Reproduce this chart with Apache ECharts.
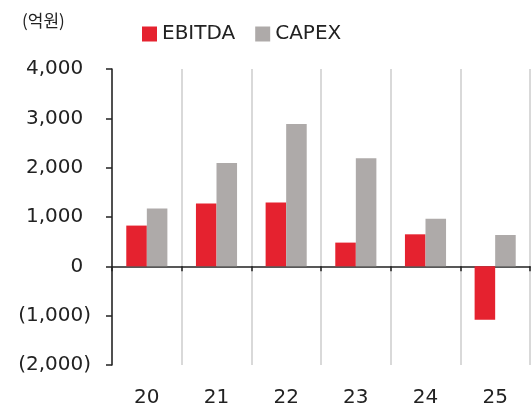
<!DOCTYPE html>
<html><head><meta charset="utf-8">
<script src="https://cdn.jsdelivr.net/npm/echarts@6/dist/echarts.min.js"></script>
<style>html,body{margin:0;padding:0;background:#fff}#c{width:532px;height:412px}</style>
</head><body><div id="c"></div>
<script>
const categories = ['20','21','22','23','24','25'];
const ebitda = [826, 1272, 1292, 481, 649, -1081];
const capex = [1170, 2095, 2887, 2191, 967, 635];
const yTicks = [-2000, -1000, 0, 1000, 2000, 3000, 4000];
const unitLabel = '(억원)';

const FONT = 'DejaVu Sans, Noto Sans CJK KR, sans-serif';
const fmt = v => Math.abs(v).toLocaleString('en-US');
const chart = echarts.init(document.getElementById('c'), null, {renderer:'canvas'});
chart.setOption({
  animation:false,
  backgroundColor:'#fff',
  textStyle:{fontFamily:FONT},
  graphic:[{type:'text', left:22, top:12, style:{text:unitLabel, fontSize:17, fill:'#222', fontFamily:'Noto Sans CJK KR, sans-serif'}}],
  legend:{
    left:137, top:19, itemWidth:15, itemHeight:15, itemGap:20,
    icon:'rect',
    textStyle:{fontSize:20, color:'#222', fontFamily:FONT},
    data:['EBITDA','CAPEX']
  },
  grid:{left:112, right:2, top:69, bottom:47},
  xAxis:[{
    type:'category', data:categories, position:'bottom',
    axisLine:{show:false, onZero:false}, axisTick:{show:false},
    axisLabel:{fontSize:20, color:'#222', margin:23, fontFamily:FONT},
    splitLine:{show:true, lineStyle:{color:'#D9D9D9', width:2}}
  },{
    type:'category', data:categories, position:'bottom',
    axisLine:{show:true, onZero:true, lineStyle:{color:'#222', width:1.5}},
    axisTick:{show:true, length:5, lineStyle:{color:'#222', width:1.5}},
    axisLabel:{show:false}, splitLine:{show:false}
  }],
  yAxis:{
    type:'value', min:yTicks[0], max:yTicks[yTicks.length-1], interval:1000,
    axisLine:{show:true, lineStyle:{color:'#222', width:1.5}},
    axisTick:{show:true, length:6, lineStyle:{color:'#222', width:1.5}},
    splitLine:{show:false},
    axisLabel:{
      margin:21,
      formatter: v => v < 0 ? '{n|(' + fmt(v) + ')}' : '{n|' + fmt(v) + '}{h|)}',
      rich:{
        n:{fontSize:20, color:'#222', fontFamily:FONT},
        h:{fontSize:20, color:'transparent', fontFamily:FONT}
      }
    }
  },
  series:[
    {name:'EBITDA', type:'bar', data:ebitda, barWidth:'29.5%', barGap:'0%', itemStyle:{color:'#E5222F'}},
    {name:'CAPEX', type:'bar', data:capex, barWidth:'29.5%', barGap:'0%', itemStyle:{color:'#AEAAA9'}}
  ]
});
</script></body></html>
